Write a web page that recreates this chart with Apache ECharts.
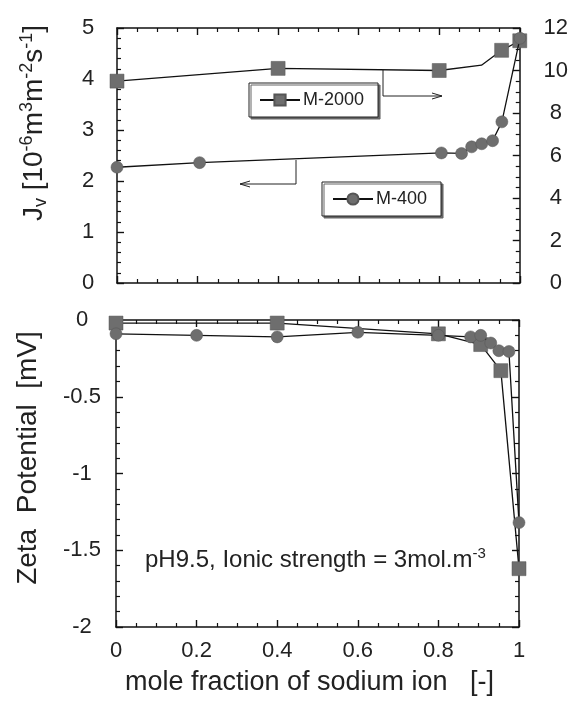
<!DOCTYPE html>
<html><head><meta charset="utf-8">
<script src="https://cdn.jsdelivr.net/npm/echarts@6/dist/echarts.min.js"></script>
<style>html,body{margin:0;padding:0;background:#fff}#c{width:571px;height:704px}</style>
</head><body><div id="c"></div>
<script>
// Top panel: permeate flux
const topM2000X = [0, 0.4, 0.8, 0.905, 0.955, 1.0];
const topM2000Y = [9.5, 10.1, 10.0, 10.25, 10.95, 11.4];   // right axis (0-12)
const topM2000Marker = [true, true, true, false, true, true];
const topM400X = [0, 0.205, 0.805, 0.855, 0.88, 0.905, 0.932, 0.955, 1.0];
const topM400Y = [2.27, 2.36, 2.55, 2.54, 2.67, 2.73, 2.79, 3.16, 4.80]; // left axis (0-5)
// Bottom panel: zeta potential
const botM2000X = [0, 0.4, 0.8, 0.905, 0.955, 1.0];
const botM2000Y = [-0.02, -0.02, -0.09, -0.16, -0.33, -1.62];
const botM400X = [0, 0.2, 0.4, 0.6, 0.8, 0.88, 0.905, 0.93, 0.95, 0.975, 1.0];
const botM400Y = [-0.09, -0.10, -0.11, -0.08, -0.10, -0.11, -0.10, -0.15, -0.20, -0.205, -1.32];
const xTicks = {min: 0, max: 1, interval: 0.2};
const jvTicks = {min: 0, max: 5, interval: 1};
const rightTicks = {min: 0, max: 12, interval: 2};
const zetaTicks = {min: -2, max: 0, interval: 0.5};

const FONT = 'Liberation Sans';
const TXT = '#222';
const MARK = '#6e6e6e';
const pairs = (xs, ys) => xs.map((x, i) => [x, ys[i]]);

function axisBase(extra, minorSplit) {
  return Object.assign({
    type: 'value',
    axisLine: {show: true, onZero: false, lineStyle: {color: '#111', width: 1.5}},
    axisTick: {show: true, inside: true, length: 7, lineStyle: {color: '#111', width: 1.4}},
    minorTick: {show: true, splitNumber: minorSplit, length: 4, lineStyle: {color: '#111', width: 1.2}},
    splitLine: {show: false},
    axisLabel: {show: false}
  }, extra || {});
}
const lbl = (m, extra) => Object.assign({show: true, color: TXT, fontFamily: FONT, fontSize: 22, margin: m}, extra || {});

const chart = echarts.init(document.getElementById('c'));
const sq = {symbol: 'rect', symbolSize: 14};
const ci = {symbol: 'circle', symbolSize: 12};
const lineS = {color: '#111', width: 1.3};
const itemS = {color: MARK, borderColor: '#555', borderWidth: 0.5};
const legendBase = {orient: 'horizontal', itemWidth: 40, itemHeight: 14,
  padding: [8, 14, 8, 10], borderColor: '#222', borderWidth: 1, backgroundColor: '#fff',
  shadowColor: '#666', shadowOffsetX: 2, shadowOffsetY: 2, shadowBlur: 0, itemGap: 4,
  textStyle: {fontFamily: FONT, fontSize: 18, color: TXT, padding: [0, 0, 0, -2]}, selectedMode: false};

const topRect = {left: 117, top: 28, width: 403, height: 255};
const botRect = {left: 116, top: 320, width: 403, height: 307};

chart.setOption({
  animation: false,
  // each panel = two overlaid grids, one (x, y) axis pair per grid
  grid: [Object.assign({}, topRect), Object.assign({}, topRect), Object.assign({}, botRect), Object.assign({}, botRect)],
  xAxis: [
    axisBase(Object.assign({gridIndex: 0}, xTicks), 4),
    axisBase(Object.assign({gridIndex: 1, position: 'top'}, xTicks), 4),
    axisBase(Object.assign({gridIndex: 2, axisLabel: lbl(13),
      name: 'mole fraction of sodium ion   [-]', nameLocation: 'middle', nameGap: 42,
      nameTextStyle: {fontFamily: FONT, fontSize: 27, color: TXT, padding: [0, 16, 0, 0]}}, xTicks), 4),
    axisBase(Object.assign({gridIndex: 3, position: 'top'}, xTicks), 4)
  ],
  yAxis: [
    axisBase(Object.assign({gridIndex: 0, axisLabel: lbl(29, {align: 'center'})}, jvTicks), 5),
    axisBase(Object.assign({gridIndex: 1, position: 'right', axisLabel: lbl(36, {align: 'center'})}, rightTicks), 4),
    axisBase(Object.assign({gridIndex: 2, axisLabel: lbl(34, {align: 'center'})}, zetaTicks), 5),
    axisBase(Object.assign({gridIndex: 3, position: 'right'}, zetaTicks), 5)
  ],
  legend: [
    Object.assign({data: ['M-2000'], left: 249, top: 83}, legendBase),
    Object.assign({data: ['M-400'], left: 322, top: 182}, legendBase)
  ],
  series: [
    Object.assign({name: 'M-2000', type: 'line', xAxisIndex: 1, yAxisIndex: 1, clip: false,
      data: pairs(topM2000X, topM2000Y).map((p, i) => topM2000Marker[i] ? p : {value: p, symbolSize: 0}),
      lineStyle: lineS, itemStyle: itemS, z: 3}, sq),
    Object.assign({name: 'M-400', type: 'line', xAxisIndex: 0, yAxisIndex: 0, clip: false,
      data: pairs(topM400X, topM400Y), lineStyle: lineS, itemStyle: itemS, z: 4}, ci),
    Object.assign({name: 'M-2000', type: 'line', xAxisIndex: 2, yAxisIndex: 2, clip: false,
      data: pairs(botM2000X, botM2000Y), lineStyle: lineS, itemStyle: itemS, z: 3}, sq),
    Object.assign({name: 'M-400', type: 'line', xAxisIndex: 2, yAxisIndex: 2, clip: false,
      data: pairs(botM400X, botM400Y), lineStyle: lineS, itemStyle: itemS, z: 4}, ci)
  ],
  graphic: [
    // y-axis titles
    {type: 'text', x: 34, y: 123, rotation: Math.PI / 2, style: {
      text: '{n|J}{sub|v}{n| [10}{sup|-6}{n|m}{sup|3}{n|m}{sup|-2}{n|s}{sup|-1}{n|]}',
      align: 'center', verticalAlign: 'middle',
      rich: {
        n: {fontFamily: FONT, fontSize: 28, fill: TXT, lineHeight: 32},
        sup: {fontFamily: FONT, fontSize: 18, fill: TXT, verticalAlign: 'top', lineHeight: 18},
        sub: {fontFamily: FONT, fontSize: 18, fill: TXT, verticalAlign: 'bottom', lineHeight: 18}
      }}},
    {type: 'text', x: 28, y: 458, rotation: Math.PI / 2, style: {
      text: 'Zeta  Potential  [mV]', align: 'center', verticalAlign: 'middle',
      fontFamily: FONT, fontSize: 28, fill: TXT}},
    // arrow to right axis (M-2000)
    {type: 'polyline', shape: {points: [[383, 70], [383, 96], [442, 96]]}, style: {stroke: '#222', lineWidth: 1, fill: null}},
    {type: 'polyline', shape: {points: [[432, 93], [442, 96], [432, 99]]}, style: {stroke: '#222', lineWidth: 1, fill: null}},
    // arrow to left axis (M-400)
    {type: 'polyline', shape: {points: [[296, 160], [296, 184], [240, 184]]}, style: {stroke: '#222', lineWidth: 1, fill: null}},
    {type: 'polyline', shape: {points: [[250, 181], [240, 184], [250, 187]]}, style: {stroke: '#222', lineWidth: 1, fill: null}},
    {type: 'text', x: 145, y: 560, style: {
      text: '{n|pH9.5, Ionic strength = 3mol.m}{sup|-3}', verticalAlign: 'middle',
      rich: {
        n: {fontFamily: FONT, fontSize: 24, fill: TXT, lineHeight: 28},
        sup: {fontFamily: FONT, fontSize: 15, fill: TXT, verticalAlign: 'top', lineHeight: 15}
      }}}
  ]
});
</script></body></html>
